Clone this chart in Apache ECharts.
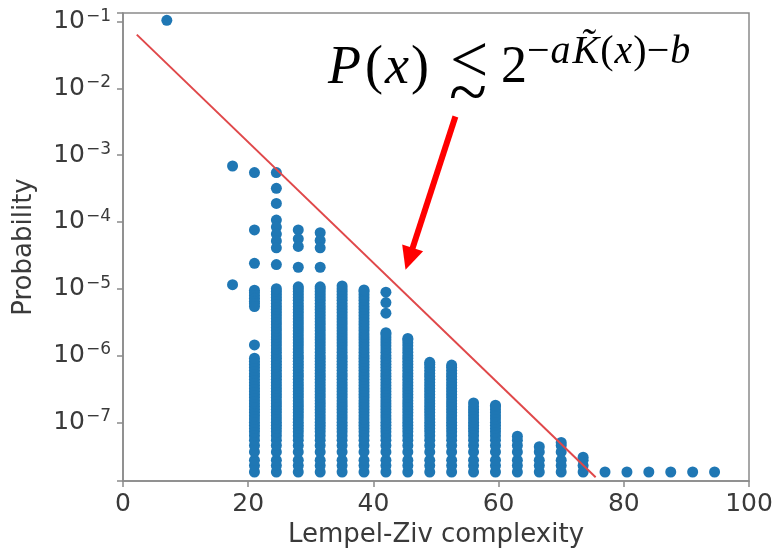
<!DOCTYPE html>
<html>
<head>
<meta charset="utf-8">
<script src="https://cdn.jsdelivr.net/npm/echarts@6/dist/echarts.min.js"></script>
<style>
  html, body { margin: 0; padding: 0; background: #fff; }
  #chart { width: 776px; height: 553px; }
</style>
</head>
<body>
<div id="chart"></div>
<script>
// column positions (Lempel-Ziv complexity values)
const colX = [7, 17.5, 21, 24.5, 28, 31.5, 35, 38.5, 42, 45.5, 49, 52.5, 56, 59.5, 63, 66.5, 70, 73.5, 77, 80.5, 84, 87.5, 91, 94.5]
// top of the dense stack that rises from the floor (null = no stack)
const colTop = [null, null, 9.1e-7, 1.0e-5, 1.07e-5, 1.07e-5, 1.1e-5, 9.6e-6, 2.2e-6, 1.8e-6, 7.9e-7, 7.2e-7, 1.95e-7, 1.8e-7, 6.2e-8, 4.3e-8, 5.0e-8, 3.0e-8, 1.8e-8, 1.8e-8, 1.8e-8, 1.8e-8, 1.8e-8, 1.8e-8]
// probability levels that make up a dense stack
const levels = [1.8e-8, 2.25e-8, 2.7e-8, 3.6e-8, 4.5e-8, 5.4e-8, 6.3e-8, 7.2e-8, 8.1e-8, 9e-8, 1.0e-7, 1.12e-7, 1.25e-7, 1.4e-7, 1.55e-7, 1.72e-7, 1.9e-7, 2.1e-7, 2.35e-7, 2.6e-7, 2.9e-7, 3.2e-7, 3.55e-7, 3.95e-7, 4.4e-7, 4.9e-7, 5.4e-7, 6e-7, 6.7e-7, 7.4e-7, 8.2e-7, 9.1e-7, 1.0e-6, 1.12e-6, 1.25e-6, 1.4e-6, 1.55e-6, 1.72e-6, 1.9e-6, 2.1e-6, 2.35e-6, 2.6e-6, 2.9e-6, 3.2e-6, 3.55e-6, 3.95e-6, 4.4e-6, 4.9e-6, 5.4e-6, 6e-6, 6.7e-6, 7.4e-6, 8.2e-6, 9.1e-6, 1.0e-5]
// isolated points above the stacks
const extraX = [7, 17.5, 17.5, 21, 21, 21, 21, 21, 21, 21, 21, 21, 21, 21, 24.5, 24.5, 24.5, 24.5, 24.5, 24.5, 24.5, 24.5, 24.5, 28, 28, 28, 28, 31.5, 31.5, 31.5, 31.5, 42, 42, 42]
const extraY = [0.105, 6.9e-4, 1.15e-5, 5.5e-4, 7.6e-5, 2.4e-5, 9.5e-6, 8.7e-6, 7.9e-6, 7.2e-6, 6.5e-6, 6e-6, 5.4e-6, 1.44e-6, 5.5e-4, 3.2e-4, 1.9e-4, 1.07e-4, 8.4e-5, 6.6e-5, 5.2e-5, 4.1e-5, 2.3e-5, 7.6e-5, 5.6e-5, 4.3e-5, 2.1e-5, 6.9e-5, 5.3e-5, 4.1e-5, 2.1e-5, 8.9e-6, 6.2e-6, 4.3e-6]
// fitted upper bound (red line) and the pointing arrow
const boundX = [2.2, 75.5]
const boundY = [0.064, 1.5e-8]
const arrowX = [53.1, 45.7]
const arrowY = [3.8e-3, 2.8e-5]
const xTicks = [0, 20, 40, 60, 80, 100]

const points = []
colX.forEach((x, i) => {
  const top = colTop[i]
  if (top == null) return
  levels.filter(v => v < top * 0.97).forEach(v => points.push([x, v]))
  points.push([x, top])
})
extraX.forEach((x, i) => points.push([x, extraY[i]]))

const gray = '#8a8a8a'
const labelColor = '#3a3a3a'
const sans = 'DejaVu Sans'
const serif = '"Liberation Serif", "DejaVu Serif", serif'

const chart = echarts.init(document.getElementById('chart'))
chart.setOption({
  animation: false,
  backgroundColor: '#fff',
  grid: { left: 123, right: 27, top: 13, bottom: 72, show: true, borderColor: gray, borderWidth: 1.5 },
  xAxis: {
    type: 'value',
    min: xTicks[0],
    max: xTicks[xTicks.length - 1],
    interval: 20,
    name: 'Lempel-Ziv complexity',
    nameLocation: 'middle',
    nameGap: 41,
    nameTextStyle: { fontFamily: sans, fontSize: 26, color: labelColor },
    axisLine: { lineStyle: { color: gray, width: 1.5 } },
    axisTick: { show: true, length: 6, lineStyle: { color: gray, width: 1.5 } },
    axisLabel: { fontFamily: sans, fontSize: 25, color: labelColor, margin: 11 },
    splitLine: { show: false }
  },
  yAxis: {
    type: 'log',
    logBase: 10,
    min: 1.32e-8,
    max: 0.135,
    name: 'Probability',
    nameLocation: 'middle',
    nameGap: 86,
    nameTextStyle: { fontFamily: sans, fontSize: 26, color: labelColor },
    axisLine: { lineStyle: { color: gray, width: 1.5 } },
    axisTick: { show: true, length: 6, lineStyle: { color: gray, width: 1.5 } },
    axisLabel: {
      color: labelColor, margin: 12,
      formatter: v => {
        const e = Math.log10(v)
        if (Math.abs(e - Math.round(e)) > 1e-6) return ''
        return '{m|10}{s|−' + Math.abs(Math.round(e)) + '}'
      },
      rich: {
        m: { fontFamily: sans, fontSize: 25, color: labelColor },
        s: { fontFamily: sans, fontSize: 17, color: labelColor, padding: [0, 0, 11, 1] }
      }
    },
    splitLine: { show: false }
  },
  series: [
    {
      type: 'scatter',
      data: points,
      symbolSize: 11,
      itemStyle: { color: '#1f77b4', opacity: 1 },
      z: 2
    },
    {
      type: 'line',
      data: boundX.map((x, i) => [x, boundY[i]]),
      showSymbol: false,
      lineStyle: { color: '#e0484a', width: 2 },
      z: 3
    },
    {
      type: 'line',
      data: [],
      markLine: {
        silent: true,
        animation: false,
        label: { show: false },
        lineStyle: { color: '#ff0000', width: 6, type: 'solid' },
        symbol: ['none', 'triangle'],
        symbolSize: [22, 23],
        data: [[
          { coord: [arrowX[0], arrowY[0]] },
          { coord: [arrowX[1], arrowY[1]] }
        ]]
      },
      z: 4
    }
  ],
  graphic: [
    {
      type: 'text', left: 328, top: 42, z: 10,
      style: {
        text: '{i|P}{n|(}{x|x}{n|)}',
        rich: {
          i: { fontFamily: serif, fontStyle: 'italic', fontSize: 54, fill: '#000', padding: [0, 4, 0, 0] },
          x: { fontFamily: serif, fontStyle: 'italic', fontSize: 54, fill: '#000', padding: [0, 2, 0, 2] },
          n: { fontFamily: serif, fontSize: 54, fill: '#000' }
        }
      }
    },
    { type: 'text', left: 450, top: 30, z: 10, style: { text: '<', fontFamily: serif, fontSize: 68, fill: '#000' } },
    { type: 'text', left: 449, top: 62, z: 10, style: { text: '~', fontFamily: serif, fontSize: 70, fill: '#000' } },
    { type: 'text', left: 501, top: 42, z: 10, style: { text: '2', fontFamily: serif, fontSize: 52, fill: '#000' } },
    {
      type: 'text', left: 527, top: 32, z: 10,
      style: {
        text: '{n|−}{i|a}{i|K̃}{n|(}{i|x}{n|)−}{i|b}',
        rich: {
          i: { fontFamily: serif, fontStyle: 'italic', fontSize: 40, fill: '#000', padding: [0, 1, 0, 1] },
          n: { fontFamily: serif, fontSize: 40, fill: '#000' }
        }
      }
    }
  ]
})
</script>
</body>
</html>
